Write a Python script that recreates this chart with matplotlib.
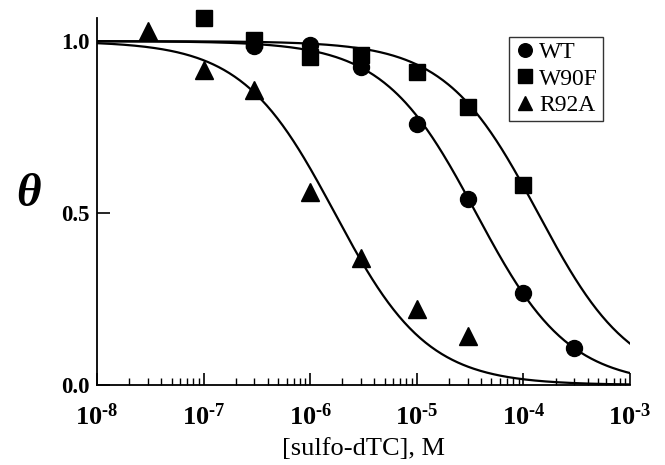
import numpy as np
import matplotlib.pyplot as plt
from matplotlib.ticker import LogLocator, NullFormatter, FixedLocator, FuncFormatter

plt.rcParams['font.family'] = ['Liberation Serif', 'DejaVu Serif']
plt.rcParams['mathtext.fontset'] = 'custom'
plt.rcParams['mathtext.rm'] = 'Liberation Serif'
plt.rcParams['mathtext.bf'] = 'Liberation Serif:bold'
plt.rcParams['mathtext.it'] = 'Liberation Serif:italic'

# measured points
wt_x = [3e-7, 1e-6, 3e-6, 1e-5, 3e-5, 1e-4, 3e-4]
wt_y = [0.985, 0.99, 0.925, 0.758, 0.54, 0.268, 0.107]

w90f_x = [1e-7, 3e-7, 1e-6, 3e-6, 1e-5, 3e-5, 1e-4]
w90f_y = [1.067, 1.003, 0.955, 0.96, 0.91, 0.808, 0.583]

r92a_x = [3e-8, 1e-7, 3e-7, 1e-6, 3e-6, 1e-5, 3e-5]
r92a_y = [1.03, 0.915, 0.857, 0.56, 0.37, 0.22, 0.143]

# fitted IC50 (M) and Hill slope for each curve
ic50 = {"WT": 3.6e-5, "W90F": 1.37e-4, "R92A": 1.7e-6}
hill = {"WT": 1.0, "W90F": 1.0, "R92A": 1.0}

fig = plt.figure(figsize=(6.65, 4.65), dpi=100)
ax = fig.add_axes([0.1459, 0.172, 0.8015, 0.789])

xs = np.logspace(-8, -3, 400)
for name in ["WT", "W90F", "R92A"]:
    ys = 1.0 / (1.0 + (xs / ic50[name]) ** hill[name])
    ax.plot(xs, ys, color='black', lw=1.6, zorder=2)

ax.plot(wt_x, wt_y, 'o', color='black', ms=11.5, ls='none', label='WT',
        zorder=3, clip_on=False)
ax.plot(w90f_x, w90f_y, 's', color='black', ms=11.5, ls='none', label='W90F',
        zorder=3, clip_on=False)
ax.plot(r92a_x, r92a_y, '^', color='black', ms=12.5, ls='none', label='R92A',
        zorder=3, clip_on=False)

ax.set_xscale('log')
ax.set_xlim(1e-8, 1e-3)
ax.set_ylim(0, 1.067)

ax.spines['top'].set_visible(False)
ax.spines['right'].set_visible(False)
for s in ['left', 'bottom']:
    ax.spines[s].set_linewidth(1.3)


def exp_label(v, pos):
    # short hyphen instead of the long math minus, like the original figure
    return '$\\mathbf{10^{\u2010%d}}$' % abs(round(np.log10(v)))


ax.xaxis.set_major_locator(LogLocator(base=10, numticks=10))
ax.xaxis.set_minor_locator(LogLocator(base=10, subs=np.arange(2, 10), numticks=20))
ax.xaxis.set_minor_formatter(NullFormatter())
ax.xaxis.set_major_formatter(FuncFormatter(exp_label))
ax.yaxis.set_major_locator(FixedLocator([0.0, 0.5, 1.0]))
ax.set_yticklabels(['0.0', '0.5', '1.0'])

ax.tick_params(axis='x', which='major', direction='in', length=9, width=1.2,
               labelsize=19, pad=13)
ax.tick_params(axis='x', which='minor', direction='in', length=5, width=1.0)
ax.tick_params(axis='y', which='major', direction='in', length=9, width=1.2,
               labelsize=16.5, pad=5)
for lab in ax.get_yticklabels():
    lab.set_fontweight('bold')

ax.set_xlabel('[sulfo-dTC], M', fontsize=19, labelpad=6)
fig.text(28 / 665, 1 - 195 / 465, 'θ', fontsize=34, fontweight='bold',
         fontstyle='italic', ha='center', va='center')

leg = ax.legend(loc='upper right', bbox_to_anchor=(0.949, 0.948), fontsize=17,
                frameon=True, fancybox=False, edgecolor='black', handletextpad=0.1,
                borderpad=0.2, labelspacing=0.2, handlelength=1.0, markerscale=0.85,
                borderaxespad=0)
leg.get_frame().set_linewidth(1.0)

fig.savefig('out.png', dpi=100)
